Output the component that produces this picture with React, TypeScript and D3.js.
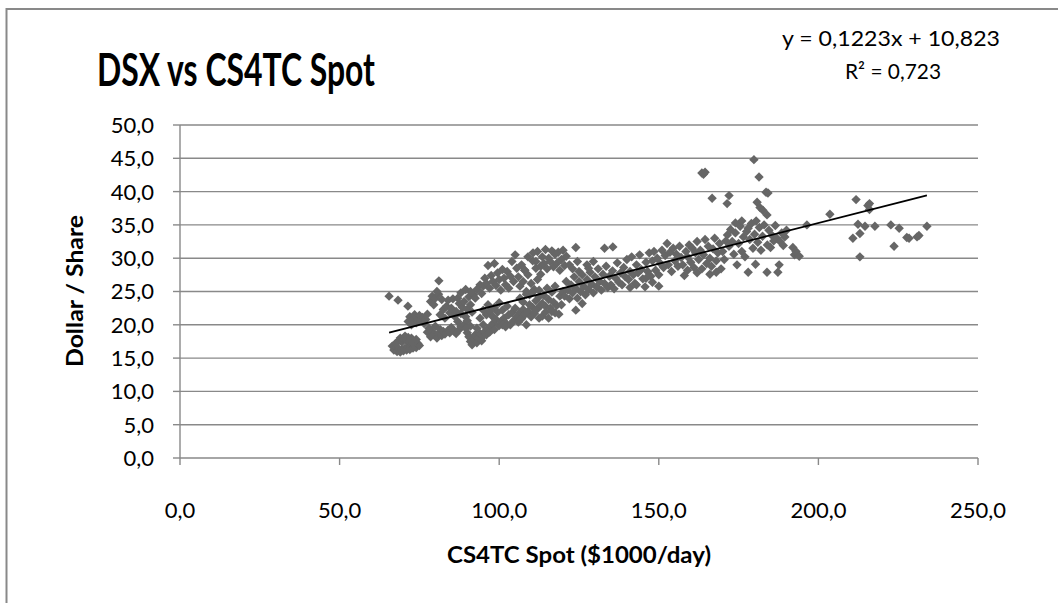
import React from "react";
import * as d3 from "d3";

// ---- data: [CS4TC spot $1000/day, DSX $/share] ----
const regionA: [number, number][] = [
  [65.5,24.3],[68.3,23.7],[71.4,22.8],
  [66.5,16.8],[67,16.2],[67.5,16.6],[68,16.0],[68.5,16.4],[69,15.9],[69.5,16.3],[70,16.1],[70.5,16.5],[71,16.2],[71.5,16.6],[72,16.3],[72.5,16.8],[73,16.5],[73.5,17.0],[74,16.6],[74.5,17.2],[75,16.9],
  [68.5,17.6],[69,18.0],[69.5,17.4],[70,17.8],[70.5,18.3],[71,17.6],[71.5,18.1],[72,17.5],[72.5,18.0],[73,17.3],[67.5,17.2],[74,17.8],
  [71.5,20.5],[72,21.2],[73,20.8],[73.5,21.5],[74,20.3],[74.5,21.0],[75,21.4],[75.5,20.6],[76,21.1],[77,20.8],[77.5,21.6],[72.5,20.0],[76.5,20.2],
];
const regionB: [number, number][] = [
  [77.5,18.9],[78,19.5],[78.5,18.2],[79,19.0],[79.5,18.5],[80,19.8],[80.5,18.0],[81,18.7],[81.5,19.3],[82,18.4],[82.5,19.0],[83,18.6],[84,19.2],[84.5,18.8],[85,19.6],[86,19.0],[86.5,18.7],[87.5,19.3],[88,19.8],
  [78.5,23.5],[79,24.3],[79.5,23.0],[80,24.0],[81,24.6],[82,23.8],[81.1,26.6],[80.5,25.0],
  [81.5,21.5],[82.5,22.3],[83,21.0],[83.5,22.8],[84,23.7],[84.5,21.8],[85,22.5],[85.5,23.9],[86,21.3],[86.5,22.0],[87,24.0],[87.5,23.2],[88,21.7],[88.5,22.6],[89,23.5],[89.5,21.2],[90,22.3],[90.5,24.2],[91,23.0],[91.5,21.9],[92,24.5],[87,20.5],[89,20.0],[90,20.6],
];
const regionC: [number, number][] = [
  [89.5,19.5],[90,18.8],[90.5,18.2],[91,17.5],[91.5,17.0],[92,17.8],[92.5,18.5],[93,17.3],[93.5,18.0],[94,18.7],[94.5,17.6],[95,18.3],[95.5,19.0],[96,18.5],[96.5,19.4],[97,18.9],[91,19.8],[93,19.5],[95,20.0],[97.5,19.8],[98,20.2],[98.5,19.3],
  [94,21.0],[95,22.2],[96,21.5],[96.5,23.0],[97,22.0],[98,21.2],[98.5,22.6],[99,20.8],[99.5,21.9],[100,23.3],[100.5,20.5],[101,22.2],[101.5,21.0],[102,20.3],[102.5,22.8],[103,21.5],[103.5,20.0],[104,21.8],[104.5,20.6],[105,22.5],[105.5,21.2],[106,20.4],[106.5,21.9],[107,20.9],[107.5,22.3],[108,21.5],[108.5,20.0],[109,22.0],[110,21.2],[110.5,22.6],[111,21.7],[112,22.4],[112.5,21.0],[113,22.9],[100,19.9],[101,20.0],[102,19.7],
];
const regionD: [number, number][] = [
  [93,25.3],[94,26.0],[94.5,24.7],[95,25.8],[95.5,27.0],[96,26.2],[96.5,28.9],[97,25.5],[97.5,27.4],[98,26.5],[98.5,29.2],[99,25.9],[99.5,27.8],[100,26.8],[100.5,25.2],[101,28.3],[101.5,27.0],[102,26.0],[102.5,28.0],[103,25.5],[103.5,27.3],[104,29.5],[104.5,26.5],[105,30.5],[105.5,28.5],[106,27.2],[106.5,25.8],[107,29.0],[107.5,26.5],[108,28.2],[108.5,25.0],[109,27.5],[109.5,24.5],[110,26.2],[110.5,29.6],[111,25.3],[111.5,28.5],[112,26.8],[112.5,24.2],[113,27.6],
  [88,24.8],[89.5,25.3],[91,25.0],[92.5,24.0],
  [106.5,24.0],[107.5,23.4],[108.5,24.6],[109.5,23.0],[110.5,24.9],[111.5,23.6],[112.5,25.2],[113.5,23.2],[114,24.4],[114.5,22.8],[115,25.5],[115.5,23.8],[116,22.5],[116.5,24.9],[117,23.4],[117.5,25.8],[118,22.9],[118.7,21.6],[119,24.3],[119.5,23.0],[120,25.0],[113.5,21.3],[114.5,21.9],[115.5,21.0],[116.5,22.0],[117.5,21.8],
];
const regionE: [number, number][] = [
  [110.6,30.8],[111.5,29.5],[112,31.0],[113,28.8],[113.5,30.2],[114,29.2],[114.5,31.3],[115,28.4],[115.5,30.0],[116,29.5],[116.5,31.1],[117,28.7],[117.5,30.6],[118,29.2],[118.5,30.9],[119,28.2],[119.5,29.8],[120,31.2],[120.5,28.9],[121,30.3],[122,29.0],[123,28.4],[124,31.6],[124.5,29.5],[125,28.0],[108,28.2],[109,30.2],
  [120.5,24.3],[121,26.5],[121.5,25.2],[122,23.9],[122.5,26.0],[123,24.8],[123.5,27.2],[124,25.5],[124.5,24.0],[125,26.5],[125.5,25.0],[126,27.5],[126.5,25.8],[127,24.5],[127.5,26.8],[128,25.3],[128.5,27.9],[129,26.1],[129.5,24.8],[130,27.2],[130.5,25.7],[131,28.4],[131.5,26.5],[132,25.2],[132.5,27.6],[133,26.2],[133.5,28.8],[134,25.6],[134.5,27.3],[135,26.0],[135.5,28.1],[136,25.4],[136.5,27.0],[137,29.3],[137.5,26.4],[138,27.8],[124,22.2],[126,23.2],
  [127.5,29.0],[128,28.5],[129.5,29.5],[135.6,31.7],[133,31.5],
];
const regionF: [number, number][] = [
  [138.5,26.0],[139,28.6],[139.5,27.2],[140,29.8],[140.5,26.8],[141,28.0],[141.5,30.2],[142,27.5],[142.5,26.2],[143,29.0],[143.5,27.8],[144,30.5],[144.5,28.3],[145,26.9],[145.7,25.7],[146,29.4],[146.5,28.0],[147,30.8],[147.5,27.3],[148,29.6],[148.5,31.0],[149,28.2],[149.5,30.0],[150,27.5],[150.5,29.2],[151,31.2],[151.5,28.6],[152,30.4],[152.6,32.2],[153,29.0],[153.5,30.9],[154,28.0],[154.5,31.5],[155,29.6],[155.5,30.6],[156,28.8],[156.5,31.8],[157,30.1],[141,25.6],[143,26.0],[148,26.4],[150,25.8],[146,27.0],
  [157.5,29.0],[158,27.4],[158.5,31.0],[159,30.2],[159.5,32.0],[160,29.4],[160.5,31.5],[161,28.6],[161.5,30.8],[162,32.5],[162.5,29.8],[163,31.2],[163.5,28.4],[164,30.5],[164.5,32.8],[165,29.2],[165.5,31.8],[166,30.0],[166.5,28.8],[167,31.4],[167.5,33.0],[168,29.6],[168.5,30.8],[169,32.2],[169.5,28.4],[170,31.0],[170.5,29.8],[171,32.6],[159,28.2],[162,27.8],[166,27.6],[168,27.9],
];
const regionG: [number, number][] = [
  [163.5,42.8],[164.5,42.9],[164,42.6],[166.7,39.0],[172,39.4],[171.4,38.2],[179.8,44.8],[181.4,42.2],[183.6,39.9],[184.2,39.8],[180.8,38.4],[181.7,37.6],[182.6,37.2],[183.9,36.5],[196.4,35.0],
  [171.5,33.5],[172,31.8],[172.5,34.3],[173,32.5],[173.5,30.6],[174,33.8],[174.5,29.0],[175,32.2],[175.5,34.8],[176,31.0],[176.5,33.2],[177,30.2],[177.5,34.0],[178,27.9],[178.5,32.8],[179,35.2],[179.5,31.5],[180,33.6],[180.3,29.1],[180.5,35.6],[181,32.4],[181.5,34.6],[182,31.2],[182.5,33.3],[183,35.0],[183.9,27.9],[184,32.0],[184.5,34.2],[185,31.6],[185.5,33.4],[186,32.6],[186.5,34.9],[187,33.0],[187.3,27.9],[187.7,29.0],[188,32.5],[188.5,33.8],[189,31.9],[189.5,33.2],[190,34.2],[192,31.6],[192.5,30.5],[193,31.0],[194,30.3],[174,35.3],[176,35.6],[178,34.5],
];
const regionH: [number, number][] = [
  [203.6,36.6],[210.8,33.0],[211.8,38.8],[212.4,35.1],[213,33.7],[213,30.2],[214.6,34.8],[215.5,37.9],[216,38.2],[216,37.3],[217.7,34.8],[222.7,35.0],[223.7,31.8],[225.3,34.5],[227.7,33.1],[228.4,33.0],[230.9,33.2],[231.5,33.4],[234,34.8],
];
const points = [...regionA, ...regionB, ...regionC, ...regionD, ...regionE, ...regionF, ...regionG, ...regionH];

const xTicks = [0, 50, 100, 150, 200, 250];
const yTicks = [0, 5, 10, 15, 20, 25, 30, 35, 40, 45, 50];
const slope = 0.1223;
const intercept = 10.823;
const title = "DSX vs CS4TC Spot";
const eqLine1 = "y = 0,1223x + 10,823";
const eqLine2 = "R² = 0,723";
const xLabel = "CS4TC Spot ($1000/day)";
const yLabel = "Dollar / Share";

const fmt = (v: number) => v.toFixed(1).replace(".", ",");

export default function App() {
  const W = 1058, H = 603;
  const x = d3.scaleLinear().domain([0, 250]).range([180, 978]);
  const y = d3.scaleLinear().domain([0, 50]).range([458, 125]);
  const font = "Lato, 'Open Sans', sans-serif";
  const grid = "#898989";
  const xMin = d3.min(points, (p) => p[0])!;
  const xMax = d3.max(points, (p) => p[0])!;
  const r = 4.7;
  const diamond = (cx: number, cy: number) =>
    `M${cx},${cy - r}L${cx + r},${cy}L${cx},${cy + r}L${cx - r},${cy}Z`;
  const line = d3.line<number>().x((v) => x(v)).y((v) => y(slope * v + intercept));

  return (
    <svg width={W} height={H} style={{ position: "absolute", left: 0, top: 0, background: "#fff" }} fontFamily={font}>
      <rect x={0} y={0} width={W} height={H} fill="#fff" />
      <rect x={6.5} y={9} width={1200} height={800} fill="none" stroke={grid} strokeWidth={2} />
      {yTicks.slice(1).map((t) => (
        <line key={"g" + t} x1={x(0)} x2={x(250)} y1={y(t)} y2={y(t)} stroke={grid} strokeWidth={1.4} />
      ))}
      <line x1={x(0)} x2={x(0)} y1={y(50)} y2={y(0)} stroke={grid} strokeWidth={1.4} />
      <line x1={x(0)} x2={x(250)} y1={y(0)} y2={y(0)} stroke={grid} strokeWidth={1.4} />
      {yTicks.map((t) => (
        <g key={"y" + t}>
          <line x1={x(0) - 7} x2={x(0)} y1={y(t)} y2={y(t)} stroke={grid} strokeWidth={1.4} />
          <text x={154} y={y(t)} dy="0.36em" textAnchor="end" fontSize={22} fill="#000">{fmt(t)}</text>
        </g>
      ))}
      {xTicks.map((t) => (
        <g key={"x" + t}>
          <line x1={x(t)} x2={x(t)} y1={y(0)} y2={y(0) + 7} stroke={grid} strokeWidth={1.4} />
          <text x={x(t)} y={518} textAnchor="middle" fontSize={22} fill="#000">{fmt(t)}</text>
        </g>
      ))}
      {points.map((p, i) => (
        <path key={i} d={diamond(x(p[0]), y(p[1]))} fill="#666666" />
      ))}
      <path d={line([xMin, xMax]) || ""} stroke="#000" strokeWidth={1.8} fill="none" />
      <text x={236} y={86} textAnchor="middle" fontSize={45} fontWeight="bold" fill="#000" textLength={278} lengthAdjust="spacingAndGlyphs">{title}</text>
      <text x={891} y={46} textAnchor="middle" fontSize={22} fill="#000" textLength={218} lengthAdjust="spacingAndGlyphs">{eqLine1}</text>
      <text x={893} y={79} textAnchor="middle" fontSize={22} fill="#000" textLength={96} lengthAdjust="spacingAndGlyphs">{eqLine2}</text>
      <text x={579} y={563} textAnchor="middle" fontSize={22} fontWeight="bold" fill="#000" textLength={264} lengthAdjust="spacingAndGlyphs">{xLabel}</text>
      <text transform={`translate(83,291) rotate(-90)`} textAnchor="middle" fontSize={22} fontWeight="bold" fill="#000" textLength={152} lengthAdjust="spacingAndGlyphs">{yLabel}</text>
    </svg>
  );
}
